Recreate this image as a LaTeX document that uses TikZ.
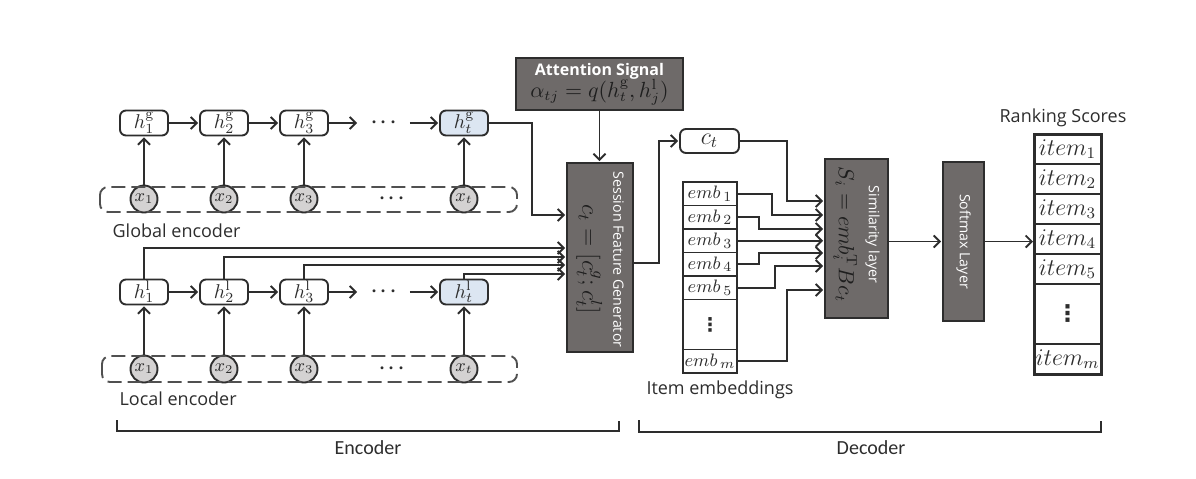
\documentclass[tikz,border=0pt]{standalone}
\usepackage{amsmath}
\usepackage{fontspec}
\setsansfont{Open Sans}
\newfontfamily\narrowfont{Carlito}
\newfontfamily\symfont{DejaVu Sans}
\usetikzlibrary{arrows, arrows.meta, shapes, positioning}

\definecolor{boxgray}{RGB}{110,106,105}
\definecolor{linegray}{RGB}{45,45,45}
\definecolor{dashgray}{RGB}{80,80,80}
\definecolor{hlblue}{RGB}{220,230,242}
\definecolor{xgray}{RGB}{212,210,210}
\definecolor{formula}{RGB}{30,30,30}

\newcommand{\rowgap}{{\Large$\cdot\!\cdot\!\cdot$}}
\newcommand{\colgap}{{\symfont\bfseries ⋮}}

\tikzset{
  layer box/.style={draw=linegray, fill=boxgray},
  layer label/.style={rotate=-90, align=center, text=formula},
  label text/.style={font=\sffamily\fontsize{9}{11}\selectfont},
}
\newcommand{\whitelabel}[1]{{\color{white}\sffamily\fontsize{7.1}{9}\selectfont #1}}

\begin{document}
\begin{tikzpicture}[x=0.5pt,y=-0.5pt,->,>={Straight Barb[length=3pt,width=6pt]},shorten >=0.5pt,
  line width=0.95pt,color=linegray,node distance=40pt,
  h node/.style={draw, rounded corners=3pt, minimum width=24pt, minimum height=12.5pt, inner sep=0pt},
  x node/.style={circle, draw, fill=xgray, minimum size=13.5pt, inner sep=0pt, font=\small},
  gap node/.style={minimum width=25pt, minimum height=12pt, inner sep=0pt},
  emb cell/.style={draw, minimum width=27pt, minimum height=11.75pt, inner sep=0pt, outer sep=0pt, font=\fontsize{9.5}{11}\selectfont},
  item cell/.style={draw, minimum width=33.5pt, minimum height=15pt, inner sep=0pt, outer sep=0pt, font=\fontsize{11.5}{13}\selectfont}]
  \useasboundingbox (0,0) rectangle (1196,478);

  % global encoder
  \node[h node] (hg1) at (144,123) {$h_1^{\mathrm{g}}$};
  \node[h node] (hg2) [right of=hg1] {$h_2^{\mathrm{g}}$};
  \node[h node] (hg3) [right of=hg2] {$h_3^{\mathrm{g}}$};
  \node[gap node] (hgd) [right of=hg3] {\rowgap};
  \node[h node, fill=hlblue] (hgt) [right of=hgd] {$h_t^{\mathrm{g}}$};
  \foreach \i in {1,2,3,t}
    \node[x node] (xg\i) [below of=hg\i, node distance=38pt] {$x_{\i}$};
  \node[gap node] (xgd) [below of=hgd, node distance=38pt, xshift=4pt] {\rowgap};
  \draw[-, dash pattern=on 7pt off 3pt, dashgray, rounded corners=4pt] (100,187) rectangle (517,212);
  \node[label text, anchor=base west] (glob) at (105,237) {Global encoder};

  % local encoder
  \node[h node] (hl1) at (144,292) {$h_1^{\mathrm{l}}$};
  \node[h node] (hl2) [right of=hl1] {$h_2^{\mathrm{l}}$};
  \node[h node] (hl3) [right of=hl2] {$h_3^{\mathrm{l}}$};
  \node[gap node] (hld) [right of=hl3] {\rowgap};
  \node[h node, fill=hlblue] (hlt) [right of=hld] {$h_t^{\mathrm{l}}$};
  \foreach \i in {1,2,3,t}
    \node[x node] (xl\i) [below of=hl\i, node distance=38.5pt] {$x_{\i}$};
  \node[gap node] (xld) [below of=hld, node distance=38.5pt, xshift=4pt] {\rowgap};
  \draw[-, dash pattern=on 7pt off 3pt, dashgray, rounded corners=4pt] (102,356) rectangle (517,382);
  \node[label text, anchor=base west] (loc) at (112,405) {Local encoder};

  \foreach \s/\t in {hg1/hg2, hg2/hg3, hg3/hgd, hgd/hgt, hl1/hl2, hl2/hl3, hl3/hld, hld/hlt}
    \draw (\s) -- (\t);
  \foreach \i in {1,2,3,t} {
    \draw (xg\i) -- (hg\i);
    \draw (xl\i) -- (hl\i);}

  % attention and session feature generator
  \node[layer box, minimum width=83.5pt, minimum height=26pt, align=center, inner sep=1pt, text=formula] (att) at (599.5,84)
    {{\color{white}\sffamily\bfseries\fontsize{8}{9}\selectfont Attention Signal}\\[-1pt]
     {\fontsize{10.5}{12}\selectfont$\alpha_{tj}=q(h_t^{\mathrm{g}},h_j^{\mathrm{l}})$}};
  \node[layer box, minimum width=33pt, minimum height=94.5pt] (sfg) at (600,257.5) {};
  \node[layer label, xshift=1pt] at (sfg)
    {\whitelabel{Session Feature Generator}\\[3.5pt]
     {\large$c_t=[c_t^{g};c_t^{l}]$}};

  \draw (att.south) -- (att.south |- sfg.north);
  \draw (hgt.east) -- ++(43,0) |- ([yshift=21.25pt]sfg.west);
  \foreach \s/\dy in {hl1/4.75, hl2/0.25, hl3/-3.75, hlt/-8.25}
    \draw (\s.north) |- ([yshift=\dy pt]sfg.west);

  % decoder
  \node[h node, minimum width=29.5pt, minimum height=12pt] (ct) at (709.5,141) {\large$c_t$};
  \node[emb cell] (emb1) at (710,193.75) {$emb_{\,1}$};
  \node[emb cell] (emb2) [below=0pt of emb1] {$emb_{\,2}$};
  \node[emb cell] (emb3) [below=0pt of emb2] {$emb_{\,3}$};
  \node[emb cell] (emb4) [below=0pt of emb3] {$emb_{\,4}$};
  \node[emb cell] (emb5) [below=0pt of emb4] {$emb_{\,5}$};
  \node[emb cell, minimum height=25pt] (embd) [below=0pt of emb5] {\colgap};
  \node[emb cell] (embm) [below=0pt of embd] {$emb_{\,m}$};
  \node[label text] (embl) at (720,390) {Item embeddings};

  \node[layer box, minimum width=31.5pt, minimum height=79.5pt] (sim) at (856.5,238.5) {};
  \node[layer label, xshift=-2pt] at (sim)
    {\whitelabel{Similarity layer}\\[3pt]
     {\fontsize{10.5}{12}\selectfont$S_i=emb_i^{\mathrm{T}}Bc_t$}};
  \node[layer box, minimum width=20.5pt, minimum height=79.5pt] (soft) at (963.5,241.5) {};
  \node[layer label] at (soft) {\whitelabel{Softmax Layer}};

  \node[item cell] (item1) at (1067.5,149) {$item_1$};
  \node[item cell] (item2) [below=0pt of item1] {$item_2$};
  \node[item cell] (item3) [below=0pt of item2] {$item_3$};
  \node[item cell] (item4) [below=0pt of item3] {$item_4$};
  \node[item cell] (item5) [below=0pt of item4] {$item_5$};
  \node[item cell, minimum height=30pt] (itemd) [below=0pt of item5] {\colgap};
  \node[item cell] (itemm) [below=0pt of itemd] {$item_m$};
  \draw[-, line width=1.5pt] (item1.north west) rectangle (itemm.south east);
  \node[label text] (rank) at (1063,118) {Ranking Scores};

  \draw ([yshift=-2.75pt]sfg.east) -- ++(25,0) |- (ct.west);
  \draw (ct.east) -- ++(47,0) |- ([yshift=18.75pt]sim.west);
  \foreach \s/\dx/\dy in {emb1/35/11.75, emb2/22/4.75, emb3/20/-1.125, emb4/22/-7.25, emb5/38/-13.75, embm/50/-25.75}
    \draw (\s.east) -- ++(\dx,0) |- ([yshift=\dy pt]sim.west);
  \draw (sim.east |- soft.west) -- (soft.west);
  \draw (soft.east) -- (soft.east -| item4.west);

  % encoder / decoder brackets
  \draw[-, line width=1pt] (117,420) |- (619,431) -- (619,420);
  \draw[-, line width=1pt] (639,420) |- (1101,432) -- (1101,420);
  \node[font=\narrowfont\fontsize{10}{12}\selectfont] (enc) at (368,448) {Encoder};
  \node[font=\narrowfont\fontsize{10}{12}\selectfont] (dec) at (871,448) {Decoder};
\end{tikzpicture}
\end{document}
